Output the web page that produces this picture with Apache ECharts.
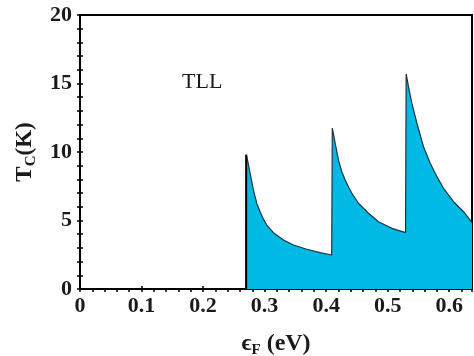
<!DOCTYPE html>
<html>
<head>
<meta charset="utf-8">
<script src="https://cdn.jsdelivr.net/npm/echarts@6/dist/echarts.min.js"></script>
<style>html,body{margin:0;padding:0;background:#fff}#c{width:474px;height:356px}</style>
</head>
<body>
<div id="c"></div>
<script>
// Data
var seg1X = [0.270, 0.2705, 0.2764, 0.2818, 0.2873, 0.2927, 0.2980, 0.3036, 0.3143, 0.3306, 0.3469, 0.3686, 0.3902, 0.409];
var seg1Y = [0, 9.8, 8.45, 7.23, 6.25, 5.64, 5.10, 4.67, 4.11, 3.58, 3.21, 2.90, 2.65, 2.48];
var seg2X = [0.410, 0.4146, 0.420, 0.4255, 0.4309, 0.4365, 0.4418, 0.4525, 0.4688, 0.4850, 0.5068, 0.5290];
var seg2Y = [11.75, 10.64, 9.42, 8.56, 7.96, 7.43, 6.99, 6.26, 5.53, 4.91, 4.43, 4.12];
var seg3X = [0.530, 0.5338, 0.5393, 0.5475, 0.5582, 0.5691, 0.580, 0.5907, 0.607, 0.6233, 0.637];
var seg3Y = [15.7, 14.77, 13.55, 12.10, 10.39, 9.18, 8.20, 7.35, 6.37, 5.64, 4.85];
var edgeX = [0.270, 0.270];
var edgeY = [0, 9.8];
var xTickLabels = ['0', '0.1', '0.2', '0.3', '0.4', '0.5', '0.6'];
var yTickLabels = ['0', '5', '10', '15', '20'];

function pairs(xs, ys) { return xs.map(function (x, i) { return [x, ys[i]]; }); }
var curve = pairs(seg1X, seg1Y).concat(pairs(seg2X, seg2Y), pairs(seg3X, seg3Y));

var FONT = '"Liberation Serif", "DejaVu Serif", serif';
var chart = echarts.init(document.getElementById('c'));
chart.setOption({
  animation: false,
  grid: { left: 80, right: 2, top: 15, bottom: 67, show: true, borderColor: '#000', borderWidth: 2,
          backgroundColor: 'transparent', containLabel: false, outerBoundsMode: 'none' },
  xAxis: [{
    type: 'value', min: 0, max: 0.637, interval: 0.1, position: 'bottom',
    axisLine: { show: true, lineStyle: { color: '#000', width: 2 } },
    axisTick: { show: true, inside: true, length: 3, lineStyle: { color: '#000', width: 1.5 } },
    splitLine: { show: false },
    axisLabel: {
      color: '#1a1a1a', fontFamily: FONT, fontSize: 22, fontWeight: 'bold', margin: 6,
      formatter: function (v) { var i = Math.round(v * 10); return Math.abs(v * 10 - i) < 1e-6 ? xTickLabels[i] : ''; }
    },
    name: '{e|ϵ}{s|F}{e| (eV)}', nameLocation: 'middle', nameGap: 43,
    nameTextStyle: {
      rich: {
        e: { fontFamily: FONT, fontSize: 24, fontWeight: 'bold', color: '#1a1a1a', verticalAlign: 'top' },
        s: { fontFamily: FONT, fontSize: 15, fontWeight: 'bold', color: '#1a1a1a', padding: [11, 0, 0, 0] }
      }
    }
  }, {
    type: 'value', min: 0, max: 0.637, interval: 0.02, position: 'top',
    axisLine: { show: true, lineStyle: { color: '#000', width: 2 } },
    axisTick: { show: true, inside: true, length: 3, lineStyle: { color: '#000', width: 1.5 } },
    axisLabel: { show: false }, splitLine: { show: false }
  }],
  yAxis: [{
    type: 'value', min: 0, max: 20, interval: 1, position: 'left',
    axisLine: { show: true, lineStyle: { color: '#000', width: 2 } },
    axisTick: { show: true, inside: true, length: 3, lineStyle: { color: '#000', width: 1.5 } },
    splitLine: { show: false },
    axisLabel: {
      color: '#1a1a1a', fontFamily: FONT, fontSize: 22, fontWeight: 'bold', margin: 8,
      formatter: function (v) { return v % 5 === 0 ? yTickLabels[v / 5] : ''; }
    },
    name: '{t|T}{s|C}{t|(K)}', nameLocation: 'middle', nameGap: 41, nameRotate: 90,
    nameTextStyle: {
      rich: {
        t: { fontFamily: FONT, fontSize: 23, fontWeight: 'bold', color: '#1a1a1a', verticalAlign: 'top' },
        s: { fontFamily: FONT, fontSize: 15, fontWeight: 'bold', color: '#1a1a1a', padding: [10, 0, 0, 0] }
      }
    }
  }, {
    type: 'value', min: 0, max: 20, interval: 1, position: 'right',
    axisLine: { show: true, lineStyle: { color: '#000', width: 2 } },
    axisTick: { show: true, inside: true, length: 3, lineStyle: { color: '#000', width: 1.5 } },
    axisLabel: { show: false }, splitLine: { show: false }
  }],
  series: [{
    type: 'line', xAxisIndex: 0, yAxisIndex: 0, data: curve, symbol: 'none', smooth: false,
    lineStyle: { color: '#1d3440', width: 1.2 },
    areaStyle: { color: '#00b9e4', opacity: 1 }
  }, {
    type: 'line', xAxisIndex: 0, yAxisIndex: 0, data: pairs(edgeX, edgeY), symbol: 'none',
    lineStyle: { color: '#000', width: 2 }
  }],
  graphic: [
    { type: 'text', left: 182, top: 71, style: { text: 'TLL', font: '22px ' + FONT, fill: '#1a1a1a' } },
    { type: 'text', left: 372, top: 248, style: { text: 'SC', font: '22px "Open Sans", "DejaVu Sans", sans-serif', fill: '#1a2a40' } }
  ]
});
</script>
</body>
</html>
